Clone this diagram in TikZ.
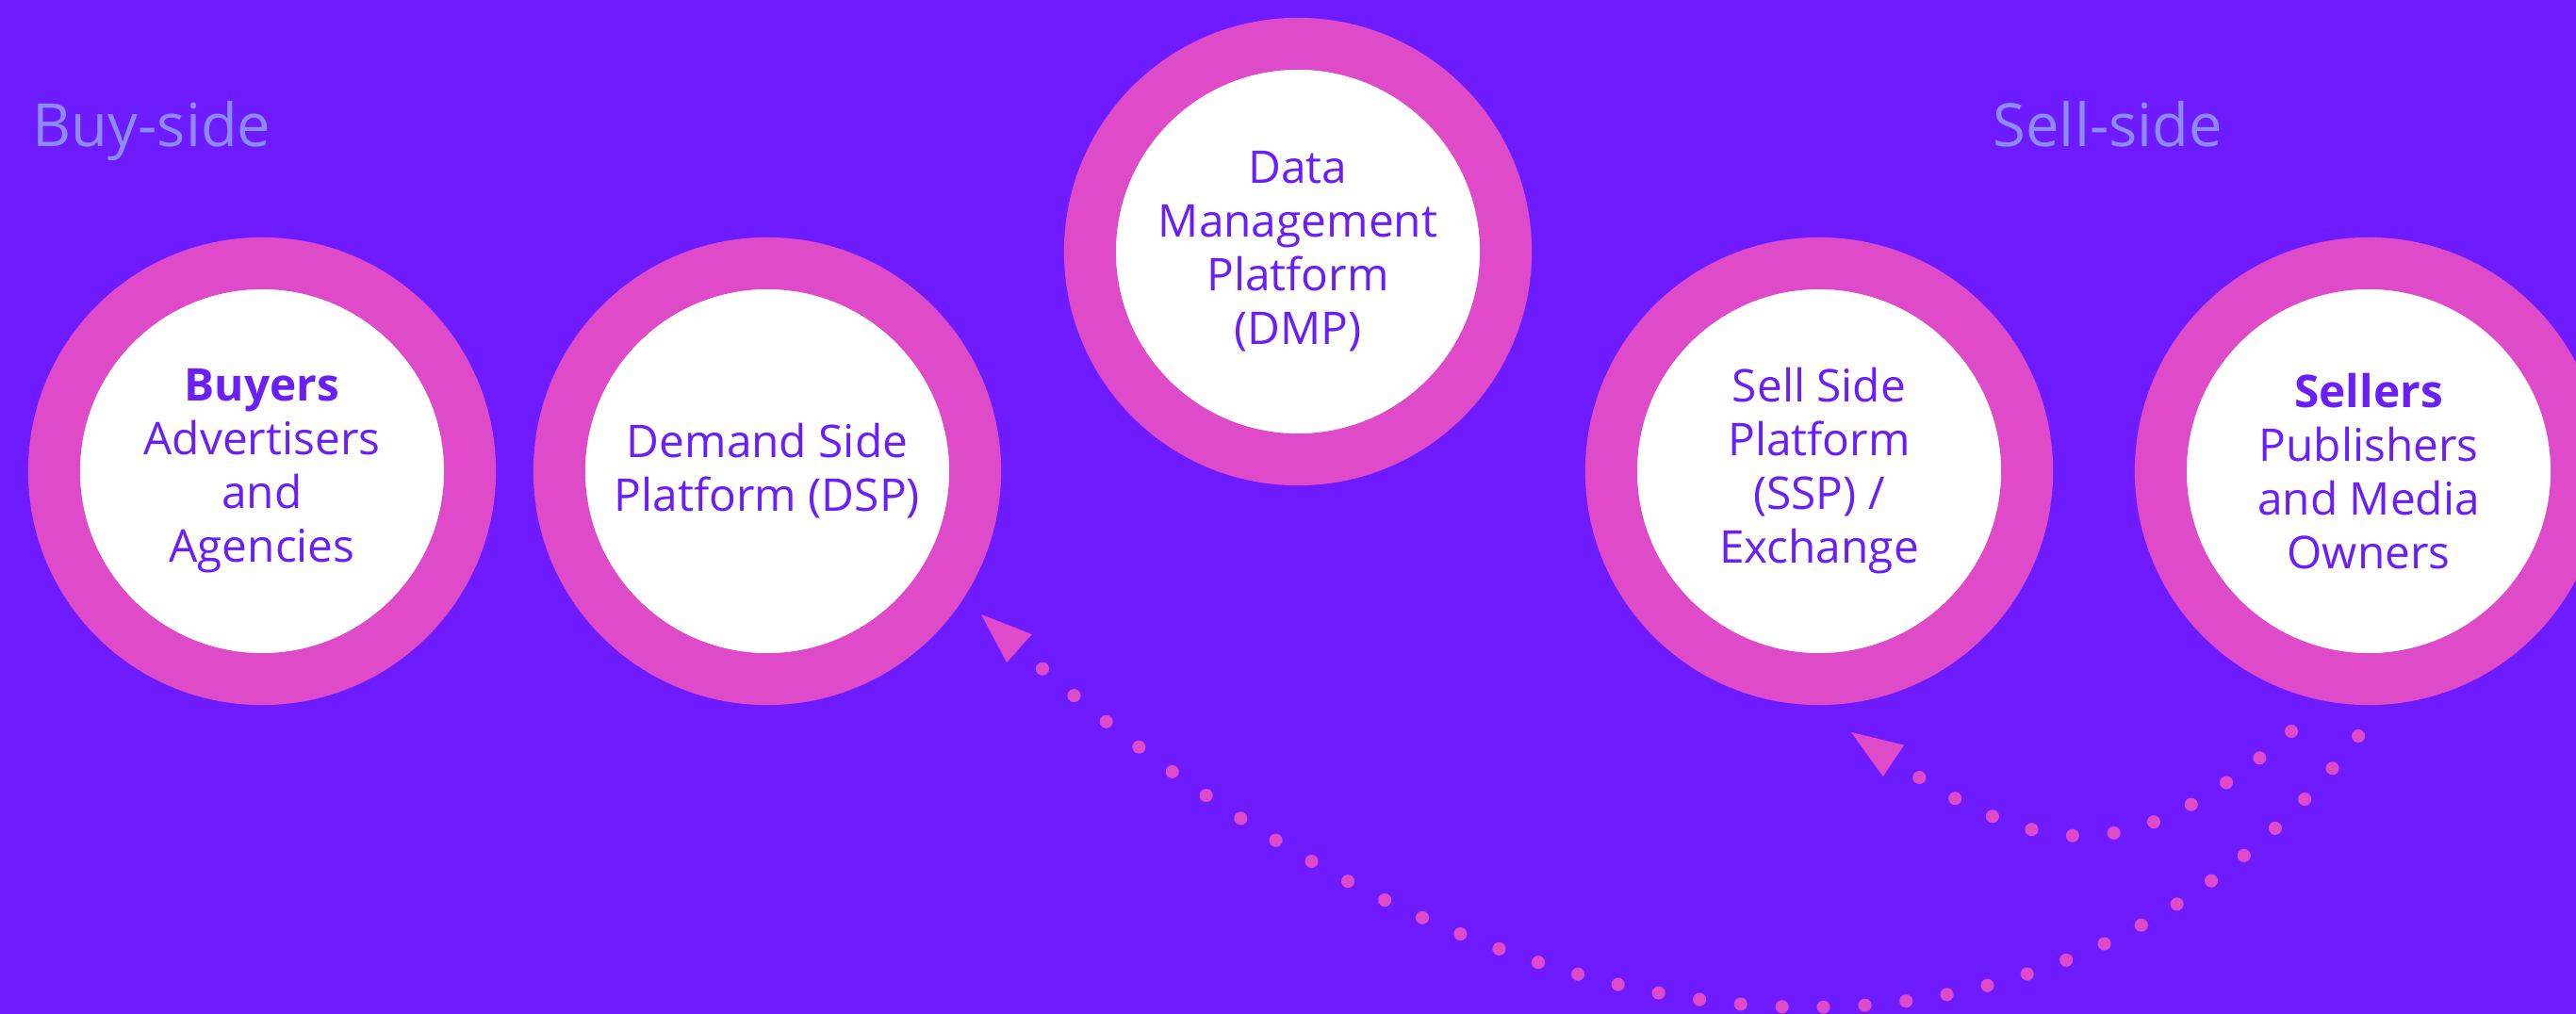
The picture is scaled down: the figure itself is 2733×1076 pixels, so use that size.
\documentclass[tikz,border=0pt]{standalone}
\usepackage{fontspec}
\setmainfont{Open Sans}
\usetikzlibrary{arrows.meta}
\definecolor{bgviolet}{RGB}{110,28,255}
\definecolor{ringpink}{RGB}{223,74,200}
\definecolor{textviolet}{RGB}{108,30,248}
\definecolor{sidegray}{RGB}{140,140,255}
\tikzset{
  ring/.style={circle, fill=white, draw=ringpink, line width=15.65pt,
    minimum size=4.41cm, inner sep=0pt, align=center, text=textviolet,
    font=\fontsize{13.6}{16.2}\selectfont},
  sidelabel/.style={text=sidegray, font=\fontsize{18}{22}\selectfont,
    inner sep=0pt, anchor=base west},
  dotflow/.style={draw=ringpink, line width=4pt, line cap=round,
    dash pattern=on 0pt off 12.5pt,
    -{Triangle[length=15.4pt,width=11.4pt,line width=0pt]}}
}
\begin{document}
\begin{tikzpicture}[x=0.01cm,y=0.01cm]
\useasboundingbox (0,0) rectangle (2733,-1076);
\clip (0,0) rectangle (2733,-1076);
\fill [bgviolet] (0,0) rectangle (2733,-1076);
\node [sidelabel] (buyside) at (34,-156) {Buy-side};
\node [sidelabel] (sellside) at (2114,-156) {Sell-side};
\node [ring] (buyers) at (278,-500) {\textbf{Buyers}\\Advertisers\\and\\Agencies};
\node [ring] (dsp) at (814,-500) {Demand Side\\Platform (DSP)};
\node [ring] (dmp) at (1377,-267) {Data\\Management\\Platform\\(DMP)};
\node [ring] (ssp) at (1930,-500) {Sell Side\\Platform\\(SSP) /\\Exchange};
\node [ring] (sellers) at (2513,-500) {\textbf{Sellers}\\Publishers\\and Media\\Owners};
\coordinate (sellout) at (2502,-781);
\coordinate (dspin) at (1041,-652);
\coordinate (sspout) at (2431,-776);
\coordinate (sspin) at (1964,-777);
\draw [dotflow] (sellout) .. controls (2222,-1152) and (1664,-1208) .. (dspin);
\draw [dotflow] (sspout) .. controls (2263,-924) and (2166,-913) .. (sspin);
\end{tikzpicture}
\end{document}
